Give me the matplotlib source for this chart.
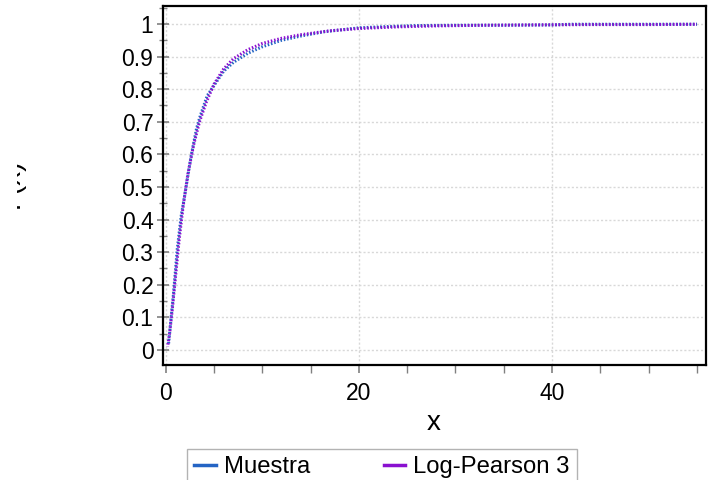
import matplotlib
matplotlib.use("Agg")
import matplotlib.pyplot as plt
from matplotlib.ticker import MultipleLocator
from matplotlib.patches import Rectangle

plt.rcParams['font.family'] = ['Liberation Sans', 'DejaVu Sans']

# Empirical CDF (Muestra)
muestra_x = [0.3, 0.5, 0.8, 1.2, 1.6, 2.0, 2.6, 3.2, 3.6, 4.3, 5.2, 6.0, 7.0, 8.5,
             10.0, 12.0, 14.0, 16.4, 20.0, 23.0, 26.0, 30.0, 35.0, 40.0, 42.0, 50.0, 55.0]
muestra_f = [0.02, 0.08, 0.17, 0.31, 0.41, 0.48, 0.59, 0.68, 0.72, 0.78, 0.82, 0.855, 0.882, 0.910,
             0.930, 0.950, 0.963, 0.976, 0.988, 0.992, 0.995, 0.996, 0.996, 0.997, 0.999, 0.999, 0.999]

# Fitted Log-Pearson 3 CDF
lp3_x = [0.2, 0.4, 0.7, 1.0, 1.4, 1.8, 2.3, 2.9, 3.5, 4.2, 5.0, 6.0, 7.0, 8.5,
         10.0, 12.0, 14.0, 17.0, 20.0, 24.0, 28.0, 33.0, 38.0, 44.0, 50.0, 55.0]
lp3_f = [0.01, 0.05, 0.13, 0.22, 0.34, 0.44, 0.54, 0.63, 0.70, 0.76, 0.815, 0.862, 0.893, 0.921,
         0.940, 0.956, 0.967, 0.979, 0.986, 0.991, 0.994, 0.996, 0.997, 0.998, 0.998, 0.999]

series_labels = ["Muestra", "Log-Pearson 3"]
series_colors = ["#2464c4", "#8a10d0"]

fig = plt.figure(figsize=(7.1, 4.8), dpi=100)
ax = fig.add_axes([162.5 / 710, 1 - 365 / 480, (705.7 - 162.5) / 710, (365 - 6) / 480])

ax.plot(muestra_x, muestra_f, color=series_colors[0], lw=2.2, linestyle=(0, (0.5, 0.6)),
        dash_capstyle='butt', label=series_labels[0], zorder=3)
ax.plot(lp3_x, lp3_f, color=series_colors[1], lw=2.2, linestyle=(0.4, (0.5, 0.6)),
        dash_capstyle='butt', label=series_labels[1], zorder=4)

ax.set_xlim(-0.33, 55.9)
ax.set_ylim(-0.046, 1.055)
ax.xaxis.set_major_locator(MultipleLocator(20))
ax.xaxis.set_minor_locator(MultipleLocator(5))
ax.yaxis.set_minor_locator(MultipleLocator(0.05))
ax.set_yticks([i / 10 for i in range(11)])
ax.set_yticklabels(["0", "0.1", "0.2", "0.3", "0.4", "0.5", "0.6", "0.7", "0.8", "0.9", "1"])

ax.grid(True, which='major', color='#d8d8d8', linestyle=(0, (1.5, 1.5)), linewidth=1.0)
for s in ax.spines.values():
    s.set_color('black')
    s.set_linewidth(1.6)

ax.tick_params(axis='y', which='major', direction='inout', length=9, width=1.2,
               color='#808080', labelsize=16.5, pad=2)
ax.tick_params(axis='y', which='minor', direction='inout', length=6, width=1.0, color='#808080')
ax.tick_params(axis='x', which='major', direction='out', length=6, width=1.2,
               color='#808080', labelsize=16.5, pad=6)
ax.tick_params(axis='x', which='minor', direction='out', length=6, width=1.0, color='#808080')

ax.set_xlabel("x", fontsize=20, labelpad=4)

fig.text(12 / 710, 1 - 183 / 480, "F(x)", rotation=90, ha='center', va='center', fontsize=20)
fig.patches.append(Rectangle((0, 0), 17 / 710, 1, transform=fig.transFigure,
                             facecolor='white', edgecolor='none', zorder=10))

leg = fig.legend(loc='upper left', bbox_to_anchor=(187 / 710, 1 - 449 / 480), ncol=2,
                 fontsize=17.2, frameon=True, fancybox=False, borderaxespad=0,
                 handlelength=0.9, handletextpad=0.33, columnspacing=3.1,
                 borderpad=0.3)
leg.get_frame().set_edgecolor('#a0a0a0')
leg.get_frame().set_linewidth(1.0)
for h in leg.get_lines():
    h.set_linestyle('-')
    h.set_linewidth(2.5)

fig.savefig("out.png", dpi=100)
